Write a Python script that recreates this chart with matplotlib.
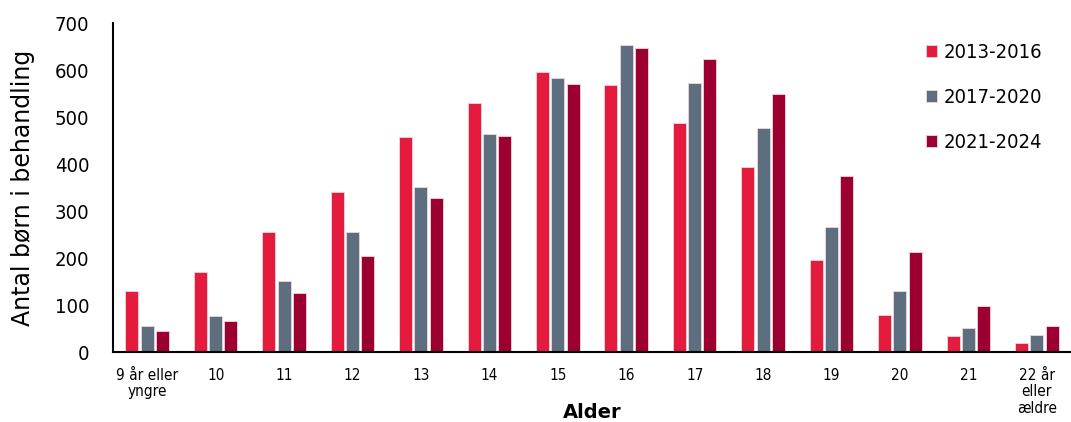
import numpy as np
import matplotlib.pyplot as plt

plt.rcParams['font.family'] = ['DejaVu Sans']

# Antal børn i behandling fordelt på alder og periode
ages = ["9 år eller\nyngre", "10", "11", "12", "13", "14", "15", "16",
        "17", "18", "19", "20", "21", "22 år\neller\nældre"]
p2013_2016 = [130, 170, 255, 342, 458, 530, 597, 568, 487, 394, 197, 80, 34, 20]
p2017_2020 = [57, 78, 152, 255, 352, 465, 583, 654, 573, 478, 266, 131, 52, 37]
p2021_2024 = [46, 66, 126, 204, 329, 460, 571, 647, 624, 549, 376, 214, 99, 57]
periods = ["2013-2016", "2017-2020", "2021-2024"]
colors = ["#E51B3E", "#5D6E7F", "#9B0030"]

fig = plt.figure(figsize=(10.71, 4.22), dpi=100)
ax = fig.add_axes([0.1055, 0.165, 0.8945, 0.78])

x = np.arange(len(ages))
w = 0.19
step = 0.224
for i, (vals, lab, c) in enumerate(zip([p2013_2016, p2017_2020, p2021_2024], periods, colors)):
    ax.bar(x + (i - 1) * step, vals, width=w, color=c, label=lab,
           edgecolor="#f2d6dc", linewidth=0.6)

ax.set_xlim(-0.5, len(ages) - 0.5)
ax.set_ylim(0, 700)
ax.set_yticks(range(0, 701, 100))
ax.set_xticks(x)
ax.set_xticklabels(ages, fontsize=11, linespacing=1.15, fontstretch="condensed")
for t in ax.get_yticklabels():
    t.set_fontstretch("condensed")
ax.tick_params(axis="y", labelsize=14.5, length=0, pad=17)
ax.tick_params(axis="x", length=0, pad=11)
for s in ["top", "right"]:
    ax.spines[s].set_visible(False)
ax.spines["left"].set_linewidth(1.5)
ax.spines["bottom"].set_linewidth(1.5)

ax.set_ylabel("Antal børn i behandling", fontsize=17, labelpad=14)
ax.text(0.5, -0.183, "Alder", transform=ax.transAxes, ha="center", va="center",
        fontsize=14, fontweight="bold")

ax.legend(loc="upper left", bbox_to_anchor=(0.83, 0.995), frameon=False,
          prop={"size": 14.5, "stretch": "condensed"}, handlelength=0.55,
          handleheight=0.55, handletextpad=0.3, labelspacing=1.3)

fig.savefig("out.png", dpi=100)
